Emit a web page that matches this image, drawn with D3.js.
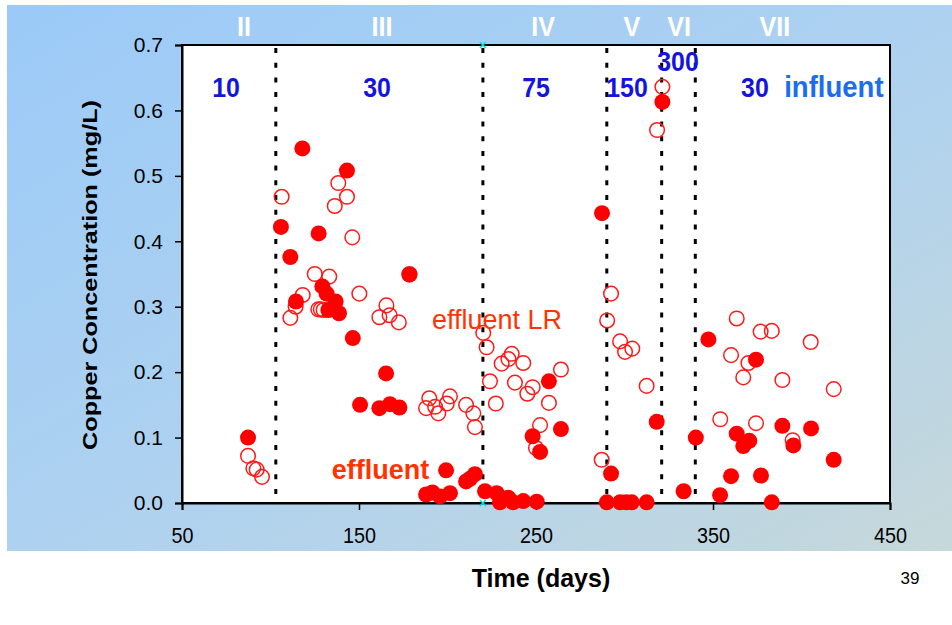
<!DOCTYPE html>
<html>
<head>
<meta charset="utf-8">
<script src="https://cdn.jsdelivr.net/npm/d3@7"></script>
<style>
  body { margin: 0; background: #fff; }
  svg { display: block; font-family: "Liberation Sans", Arial, sans-serif; }
</style>
</head>
<body>
<svg id="chart" width="952" height="625"></svg>
<script>
// effluent (filled circles)
var effDays = [87.3,
  105.9,111.2,114.4,118,127.2,129.3,131.7,132.7,136.8,138.7,143.2,146.5,150.6,161.5,165.3,167.5,172.8,178.5,
  187.9,191.5,195.8,199.2,201.4,210.5,212.7,215.5,
  221.2,227.8,229.6,234.3,237,242.8,250.4,248.1,252.3,257.3,264.1,
  287.3,292.4,290,297.5,301,304.1,312.5,318.2,321.4,
  333.4,340.3,347.4,354,360.2,363.4,367.1,370.5,374.3,377.1,383.2,389.2,395.4,405.4,418.2];
var effCu = [0.100,
  0.422,0.376,0.308,0.542,0.412,0.331,0.320,0.295,0.308,0.290,0.508,0.252,0.150,0.145,0.198,0.151,0.146,0.349,
  0.013,0.016,0.010,0.050,0.015,0.033,0.037,0.044,
  0.018,0.015,0.001,0.008,0.001,0.003,0.002,0.102,0.078,0.186,0.113,
  0.443,0.045,0.001,0.001,0.001,0.001,0.001,0.124,0.613,
  0.018,0.100,0.250,0.012,0.041,0.106,0.087,0.095,0.219,0.042,0.001,0.118,0.088,0.114,0.066];

// effluent LR (open circles)
var lrDays = [87.3,90.3,92.2,95.2,
  106.3,111.2,114.2,118.2,125,127,128.4,130,133.2,136.3,138.3,143.2,146.2,150.2,161.5,165.5,167.3,172.5,178.5,
  187.9,189.7,193,194.8,199.6,201.4,210.5,214.6,215.5,
  220.2,222.1,224,227.3,230.6,234.4,236.3,238.1,242.8,245.1,248.1,250,252.3,257.3,264.1,
  287.1,290.2,292.4,297.5,300.3,304.4,312.5,318.4,321.4,
  354.1,360.2,363.4,367.1,370,374.3,376.9,383.2,389.2,395,405.2,418.2];
var lrCu = [0.072,0.053,0.051,0.040,
  0.468,0.283,0.300,0.318,0.350,0.296,0.296,0.295,0.346,0.454,0.489,0.468,0.406,0.320,0.284,0.302,0.287,0.276,0.350,
  0.145,0.160,0.147,0.137,0.152,0.163,0.150,0.137,0.116,
  0.260,0.238,0.186,0.152,0.213,0.220,0.228,0.184,0.214,0.167,0.177,0.084,0.119,0.153,0.204,
  0.066,0.279,0.320,0.247,0.231,0.236,0.179,0.570,0.636,
  0.128,0.226,0.282,0.192,0.214,0.122,0.262,0.263,0.188,0.096,0.246,0.174];

// phase boundaries and labels
var boundaries = [103, 220, 290, 321, 340];
var phaseNames = ['II','III','IV','V','VI','VII'];
var phaseDays = [85, 163, 254, 304.2, 330.8, 385];
var loadLabels = ['10','30','75','150','300','30'];
var loadDays = [74.9, 160.2, 250, 301.4, 330.2, 373.7];
var loadVals = [0.636, 0.636, 0.636, 0.636, 0.676, 0.636];

var xTicks = [50,150,250,350,450];
var yTicks = [0,0.1,0.2,0.3,0.4,0.5,0.6,0.7];

var svg = d3.select('#chart');
var x = d3.scaleLinear().domain([50,450]).range([182,890]);
var y = d3.scaleLinear().domain([0,0.7]).range([503,45]);

// background panel
var defs = svg.append('defs');
var grad = defs.append('linearGradient').attr('id','bg')
  .attr('x1','0').attr('y1','0').attr('x2','1').attr('y2','1');
grad.append('stop').attr('offset','0').attr('stop-color','#9bcaf8');
grad.append('stop').attr('offset','0.55').attr('stop-color','#afd2ef');
grad.append('stop').attr('offset','1').attr('stop-color','#c6d8da');
svg.append('rect').attr('x',7).attr('y',5).attr('width',945).attr('height',546)
  .attr('fill','url(#bg)');

// plot area
svg.append('rect').attr('x',x(50)).attr('y',y(0.7))
  .attr('width',x(450)-x(50)).attr('height',y(0)-y(0.7))
  .attr('fill','#fff').attr('stroke','#000').attr('stroke-width',2);

// axes
var yAxis = d3.axisLeft(y).tickValues(yTicks).tickFormat(d3.format('.1f')).tickSize(7).tickPadding(12);
var gy = svg.append('g').attr('transform','translate('+x(50)+',0)').call(yAxis);
var xAxis = d3.axisBottom(x).tickValues(xTicks).tickSize(7).tickPadding(17);
var gx = svg.append('g').attr('transform','translate(0,'+y(0)+')').call(xAxis);
[gy,gx].forEach(function(g){
  g.select('.domain').attr('stroke','#000').attr('stroke-width',2);
  g.selectAll('.tick line').attr('stroke','#000').attr('stroke-width',1.5);
  g.selectAll('.tick text').attr('fill','#000').style('font-size','21px')
    .style('font-family','"Liberation Sans", Arial, sans-serif');
});
// x labels are a bit narrower in the original
gx.selectAll('.tick text').style('font-size','22px').attr('transform','scale(0.9,1)');

// dotted phase lines
svg.append('g').selectAll('line').data(boundaries).join('line')
  .attr('x1',function(d){return x(d);}).attr('x2',function(d){return x(d);})
  .attr('y1',y(0.7)+3).attr('y2',y(0))
  .attr('stroke','#000').attr('stroke-width',3).attr('stroke-dasharray','5,9.7');

// small cyan markers on the 220-day line
svg.append('g').selectAll('path').data([0.7,0]).join('path')
  .attr('d',function(d){var cx=x(boundaries[1]),cy=y(d);
    return 'M'+(cx-3)+','+(cy-3)+'L'+(cx+3)+','+(cy+3)+'M'+(cx-3)+','+(cy+3)+'L'+(cx+3)+','+(cy-3);})
  .attr('stroke','#00e0e0').attr('stroke-width',1.5);

// open circles: effluent LR
svg.append('g').selectAll('circle').data(d3.range(lrDays.length)).join('circle')
  .attr('cx',function(i){return x(lrDays[i]);})
  .attr('cy',function(i){return y(lrCu[i]);})
  .attr('r',7.3).attr('fill','none').attr('stroke','#ff1a1a').attr('stroke-width',1.5);

// filled circles: effluent
svg.append('g').selectAll('circle').data(d3.range(effDays.length)).join('circle')
  .attr('cx',function(i){return x(effDays[i]);})
  .attr('cy',function(i){return y(effCu[i]);})
  .attr('r',8).attr('fill','#ff0000');

// phase numerals
svg.append('g').selectAll('text').data(phaseNames).join('text')
  .attr('transform',function(d,i){return 'translate('+x(phaseDays[i])+',36) scale(0.93,1)';})
  .attr('text-anchor','middle').style('font-size','27px').style('font-weight','bold')
  .attr('fill','#fff').text(function(d){return d;});

// influent concentration labels
svg.append('g').selectAll('text').data(loadLabels).join('text')
  .attr('transform',function(d,i){return 'translate('+x(loadDays[i])+','+(y(loadVals[i])+10)+') scale(0.89,1)';})
  .attr('text-anchor','middle').style('font-size','28px').style('font-weight','bold')
  .attr('fill','#1414e0').text(function(d){return d;});

svg.append('text').attr('transform','translate('+x(418.3)+','+(y(0.636)+10)+') scale(0.95,1)')
  .attr('text-anchor','middle').style('font-size','29px').style('font-weight','bold')
  .attr('fill','#1c6cf2').text('influent');

// series labels
svg.append('text').attr('x',x(228)).attr('y',y(0.28)+9)
  .attr('text-anchor','middle').style('font-size','27px')
  .attr('fill','#ff3300').text('effluent LR');
svg.append('text').attr('x',x(162.2)).attr('y',y(0.05)+9)
  .attr('text-anchor','middle').style('font-size','27px').style('font-weight','bold')
  .attr('fill','#ff3300').text('effluent');

// axis titles
svg.append('text').attr('transform','translate(97,275) rotate(-90) scale(1.2,1)')
  .attr('text-anchor','middle').style('font-size','21px').style('font-weight','bold')
  .attr('fill','#000').text('Copper Concentration (mg/L)');
svg.append('text').attr('x',541).attr('y',587)
  .attr('text-anchor','middle').style('font-size','25px').style('font-weight','bold')
  .attr('fill','#000').text('Time (days)');
svg.append('text').attr('x',910).attr('y',584)
  .attr('text-anchor','middle').style('font-size','17px')
  .attr('fill','#000').text('39');
</script>
</body>
</html>
